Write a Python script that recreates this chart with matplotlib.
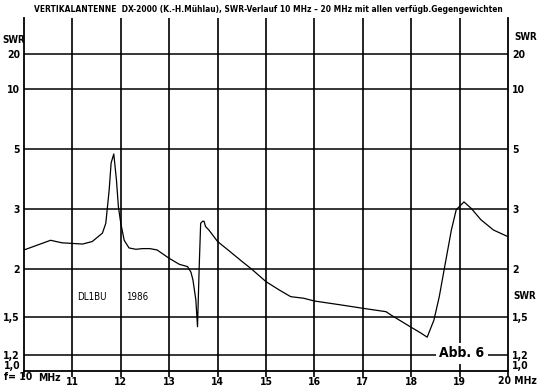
import matplotlib.pyplot as plt
from matplotlib import font_manager as fm
import numpy as np

# SWR curve (frequency in MHz, SWR)
freq_mhz = [10.0, 10.55, 10.78, 11.21, 11.41, 11.62, 11.69, 11.76, 11.80, 11.855,
            11.91, 11.95, 12.0, 12.07, 12.17, 12.31, 12.45, 12.6, 12.75, 13.0,
            13.21, 13.38, 13.45, 13.49, 13.55, 13.585, 13.62, 13.65, 13.69, 13.72,
            13.75, 13.82, 14.0, 14.25, 14.5, 14.7, 15.0, 15.27, 15.51, 15.78,
            16.0, 16.54, 17.0, 17.48, 17.58, 17.98, 18.2, 18.33, 18.47, 18.58,
            18.68, 18.83, 18.93, 19.09, 19.24, 19.44, 19.7, 20.0]
swr = [2.26, 2.41, 2.37, 2.35, 2.39, 2.53, 2.71, 3.48, 4.37, 4.75,
       3.77, 3.06, 2.71, 2.41, 2.29, 2.27, 2.28, 2.28, 2.26, 2.14,
       2.06, 2.03, 1.96, 1.87, 1.66, 1.415, 2.03, 2.71, 2.75, 2.75,
       2.65, 2.585, 2.39, 2.24, 2.10, 2.0, 1.85, 1.76, 1.69, 1.674,
       1.647, 1.61, 1.578, 1.547, 1.518, 1.415, 1.363, 1.33, 1.473, 1.69,
       1.99, 2.585, 2.99, 3.17, 3.02, 2.78, 2.585, 2.47]

x_ticks = [10, 11, 12, 13, 14, 15, 16, 17, 18, 19, 20]
x_labels = ['', '11', '12', '13', '14', '15', '16', '17', '18', '19', '']
y_grid = [1.2, 1.5, 2, 3, 5, 10, 20]
y_labels = ['1,2', '1,5', '2', '3', '5', '10', '20']
title = ('VERTIKALANTENNE  DX-2000 (K.-H.Mühlau), SWR-Verlauf 10 MHz \u2013 20 MHz'
         ' mit allen verfügb.Gegengewichten')

# the printed SWR axis is roughly linear in reflection coefficient,
# but hand drawn - so anchor it on where the grid lines sit (px from bottom)
anchor_swr = np.array([1.0, 1.2, 1.5, 2, 3, 5, 10, 20])
anchor_pos = np.array([0, 16.3, 54, 102, 161.7, 222.3, 281.7, 317])
anchor_rho = (anchor_swr - 1) / (anchor_swr + 1)
anchor_rho = np.append(anchor_rho, 1.0)
anchor_pos = np.append(anchor_pos, 355.6)


def fwd(s):
    s = np.asarray(s, dtype=float)
    rho = np.clip((s - 1) / (s + 1), 0, 1)
    return np.interp(rho, anchor_rho, anchor_pos)


def inv(p):
    rho = np.interp(np.asarray(p, dtype=float), anchor_pos, anchor_rho)
    rho = np.clip(rho, 0, 0.9999)
    return (1 + rho) / (1 - rho)


# the scan uses a condensed sans; take a narrow face if one is installed
narrow = [(f.name, f.stretch) for f in fm.fontManager.ttflist
          if 'narrow' in f.fname.lower() or 'condensed' in f.fname.lower()]
pick = None
for pref in ('Liberation Sans Narrow', 'DejaVu Sans', 'Roboto', 'Open Sans'):
    for name, stretch in narrow:
        if name == pref:
            pick = (name, stretch)
            break
    if pick:
        break
if pick is None and narrow:
    pick = narrow[0]
if pick:
    plt.rcParams['font.family'] = [pick[0], 'DejaVu Sans']
    if pick[0] != 'Liberation Sans Narrow':
        plt.rcParams['font.stretch'] = 'condensed'
    fs = 7.5
else:
    plt.rcParams['font.family'] = ['DejaVu Sans']
    fs = 6.7

W, H = 538, 391
fig = plt.figure(figsize=(W / 100, H / 100), dpi=100)
ax = fig.add_axes([24 / W, 20 / H, 484 / W, 353 / H])

ax.set_yscale('function', functions=(fwd, inv))
ax.set_xlim(10, 20)
ax.set_ylim(1.0, float(inv(353)))

for s in y_grid:
    ax.axhline(s, color='black', lw=1.1, zorder=1)
for f in x_ticks[1:-1]:
    ax.axvline(f, color='black', lw=1.2, zorder=1)

ax.plot(freq_mhz, swr, color='black', lw=0.9, zorder=3)

for side in ('left', 'right', 'bottom'):
    ax.spines[side].set_linewidth(1.3)
ax.spines['top'].set_visible(False)

ax.set_xticks(x_ticks, x_labels)
ax.tick_params(axis='x', direction='out', length=4, width=1.2, pad=0.5,
               labelsize=fs)
ax.set_yticks(y_grid, y_labels)
ax.yaxis.set_minor_locator(plt.NullLocator())
ax.tick_params(axis='y', length=0, pad=3, labelsize=fs,
               left=True, right=True, labelleft=True, labelright=True)
for lab in ax.get_xticklabels() + ax.get_yticklabels():
    lab.set_fontweight('bold')

ytr = ax.get_yaxis_transform()
ax.text(-0.008, 1.0, '1,0', transform=ytr, ha='right', va='bottom',
        fontsize=fs, fontweight='bold')
ax.text(1.008, 1.0, '1,0', transform=ytr, ha='left', va='bottom',
        fontsize=fs, fontweight='bold')

# loose labels round the frame
fig.text(2 / W, 1 - 40 / H, 'SWR', fontsize=fs - 0.5, fontweight='bold', va='center')
fig.text(514 / W, 1 - 37 / H, 'SWR', fontsize=fs - 0.5, fontweight='bold', va='center')
fig.text(513 / W, 1 - 296 / H, 'SWR', fontsize=fs - 0.5, fontweight='bold', va='center')
fig.text(32 / W, 1 - 377 / H, 'f= 10', fontsize=fs, fontweight='bold',
         ha='right', va='center')
fig.text(38 / W, 1 - 378 / H, 'MHz', fontsize=fs, fontweight='bold', va='center')
fig.text(537 / W, 1 - 381 / H, '20 MHz', fontsize=fs, fontweight='bold',
         ha='right', va='center')

ttl = fig.text(268 / W, 1 - 9 / H, title, ha='center', va='center',
               fontsize=fs, fontweight='bold')
# squeeze the title to the printed width (about 465 px)
fig.canvas.draw()
wpx = ttl.get_window_extent().width
if wpx > 468:
    ttl.set_fontsize(fs * 465 / wpx)

ax.text(11.1, 1.69, 'DL1BU', fontsize=fs - 0.5, va='center', zorder=4)
ax.text(12.1, 1.69, '1986', fontsize=fs - 0.5, va='center', zorder=4)

ax.text(19.05, 1.21, 'Abb. 6', ha='center', va='center', fontsize=10,
        fontweight='bold', zorder=5,
        bbox=dict(facecolor='white', edgecolor='none', pad=2.5))

fig.savefig('out.png', dpi=100, facecolor='white')
